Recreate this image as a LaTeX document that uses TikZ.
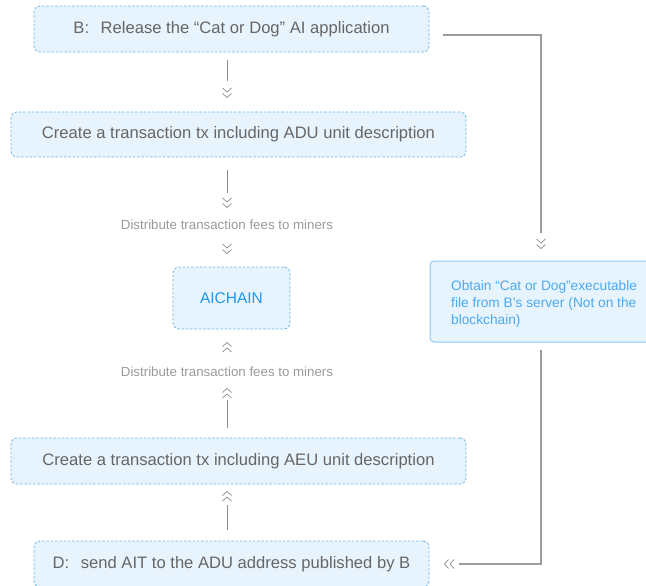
\documentclass[tikz,border=0pt]{standalone}
\usepackage{fontspec}
\setmainfont{Liberation Sans}
\definecolor{boxfill}{HTML}{E8F4FD}
\definecolor{boxline}{HTML}{6BB5E8}
\definecolor{rline}{HTML}{8EC9F0}
\definecolor{maintext}{HTML}{666666}
\definecolor{lbltext}{HTML}{9A9A9A}
\definecolor{bluetext}{HTML}{1E98F0}
\definecolor{rtext}{HTML}{4BA9EF}
\definecolor{linkc}{HTML}{8A8A8A}
\begin{document}
\begin{tikzpicture}[x=1pt,y=-1pt,
  dbox/.style={draw=boxline, fill=boxfill, dash pattern=on 2.5pt off 1.8pt, line width=0.8pt,
    rounded corners=6pt, inner sep=0pt, text=maintext, font=\fontsize{16.6}{19}\selectfont},
  rbox/.style={draw=rline, fill=boxfill, line width=1pt, rounded corners=4pt, inner sep=0pt},
  lbl/.style={text=lbltext, font=\fontsize{13.3}{15}\selectfont, inner sep=0pt},
  link/.style={draw=linkc, line width=0.8pt},
  link2/.style={draw=linkc!85, line width=1.3pt},
  chevc/.style={draw=linkc, line width=0.7pt},
  chev/.pic={\draw[chevc] (-4.5,-5) -- (0,-1) -- (4.5,-5); \draw[chevc] (-4.5,0.5) -- (0,4.5) -- (4.5,0.5);}
]
\useasboundingbox (0,0) rectangle (646,586);

% boxes
\node[dbox, minimum width=395pt, minimum height=46pt] (B) at (231.5,29) {B:\hspace{0.7em}Release the “Cat or Dog” AI application};
\node[dbox, minimum width=455pt, minimum height=45pt] (ADU) at (238.5,134.5) {Create a transaction tx including ADU unit description};
\node[dbox, minimum width=117pt, minimum height=62pt, text=bluetext, font=\fontsize{15.5}{18}\selectfont] (AIC) at (231.5,298) {AICHAIN};
\node[dbox, minimum width=455pt, minimum height=46pt] (AEU) at (238.5,461) {Create a transaction tx including AEU unit description};
\node[dbox, minimum width=395pt, minimum height=46pt] (D) at (231.5,564) {D:\hspace{0.7em}send AIT to the ADU address published by B};
\node[rbox, minimum width=232pt, minimum height=81pt] (R) at (546,301.5) {};
\node[anchor=north west, inner sep=0pt, text=rtext, align=left,
  font=\fontsize{13.7}{17.3}\selectfont] (Rt) at (451,280) {Obtain “Cat or Dog”executable\\file from B’s server\hspace{0.3em}(Not on the\\blockchain)};

% labels
\node[lbl] (L1) at (227,225) {Distribute transaction fees to miners};
\node[lbl] (L2) at (227,371.5) {Distribute transaction fees to miners};

% spine connectors
\coordinate (a1s) at (B.south -| 227,0);
\coordinate (a1e) at (227,81);
\draw[link] ([yshift=-8pt]a1s) -- (a1e);
\pic at (227,93) {chev};

\coordinate (a2s) at (ADU.south -| 227,0);
\coordinate (a2e) at (227,193);
\draw[link] ([yshift=-13pt]a2s) -- (a2e);
\pic at (227,203) {chev};
\pic at (227,249) {chev};

\pic[rotate=180] at (227,347) {chev};
\pic[rotate=180] at (227,393) {chev};
\coordinate (a3s) at (227,400);
\coordinate (a3e) at (AEU.north -| 227,0);
\draw[link] (a3s) -- ([yshift=10pt]a3e);

\pic[rotate=180] at (227,496) {chev};
\coordinate (a4s) at (227,505);
\coordinate (a4e) at (D.north -| 227,0);
\draw[link] (a4s) -- ([yshift=11pt]a4e);

% right connectors
\coordinate (r1) at (443,35);
\coordinate (r2) at (541,233);
\draw[link2] (r1) -| (r2);
\pic at (541,244) {chev};

\coordinate (r3) at (541,350);
\coordinate (r4) at (459,564);
\draw[link2] (r3) |- (r4);
\pic[rotate=-90] at (449,564) {chev};
\end{tikzpicture}
\end{document}
